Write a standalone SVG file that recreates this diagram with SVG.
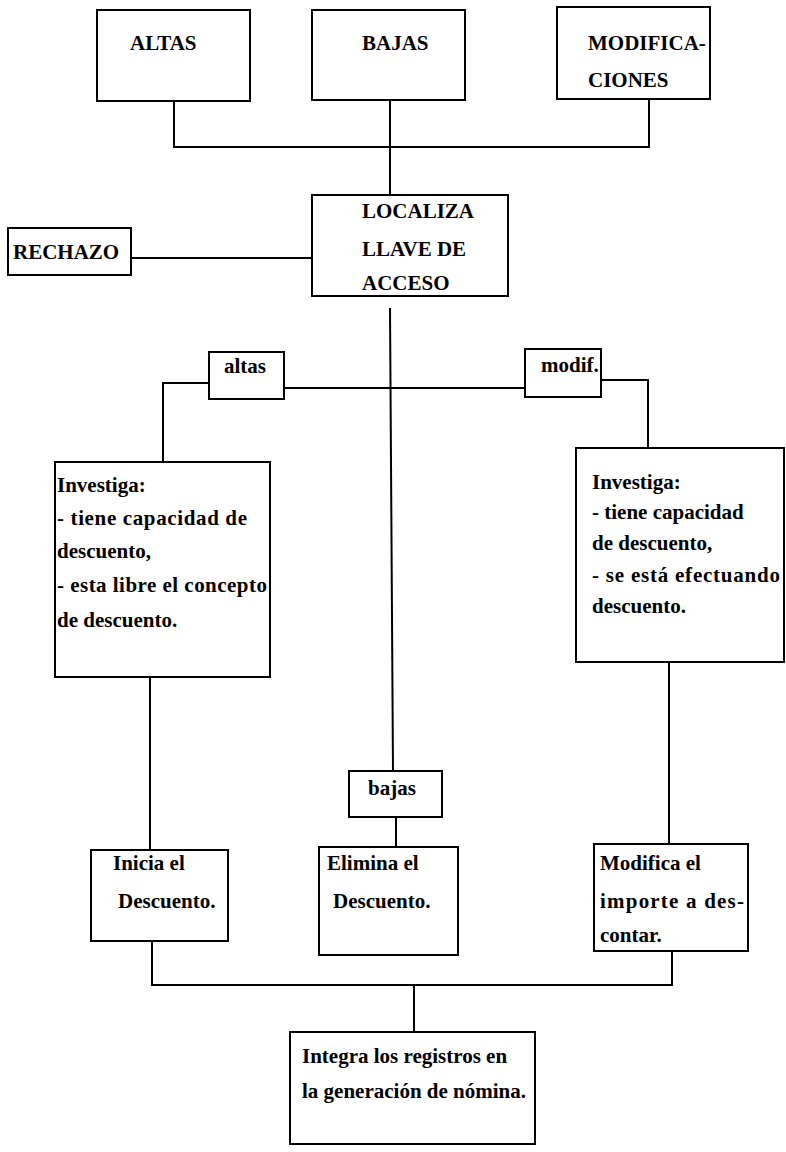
<svg xmlns="http://www.w3.org/2000/svg" width="786" height="1152" viewBox="0 0 786 1152">
<style>
  .box { fill: #ffffff; stroke: #000000; stroke-width: 2; }
  .con { fill: none; stroke: #000000; stroke-width: 2; }
  text { font-family: "Liberation Serif", "Times New Roman", serif; font-weight: bold; font-size: 21px; fill: #000000; }
</style>
<rect x="0" y="0" width="786" height="1152" fill="#ffffff"/>
<g id="connectors">
  <polyline class="con" points="174,101 174,147 649,147 649,99"/>
  <line class="con" x1="390" y1="100" x2="390" y2="195"/>
  <line class="con" x1="131" y1="258" x2="312" y2="258"/>
  <line class="con" x1="390" y1="308" x2="393" y2="771"/>
  <line class="con" x1="284" y1="388" x2="525" y2="388"/>
  <polyline class="con" points="209,383 163,383 163,462"/>
  <polyline class="con" points="601,380 648,380 648,448"/>
  <line class="con" x1="150" y1="677" x2="150" y2="850"/>
  <line class="con" x1="669" y1="662" x2="669" y2="858"/>
  <line class="con" x1="396" y1="817" x2="396" y2="847"/>
  <polyline class="con" points="152,941 152,985 672,985 672,951"/>
  <line class="con" x1="414" y1="985" x2="414" y2="1032"/>
</g>
<g id="altas-top">
  <rect class="box" x="97" y="10" width="153" height="91"/>
  <text x="130" y="50">ALTAS</text>
</g>
<g id="bajas-top">
  <rect class="box" x="312" y="10" width="153" height="90"/>
  <text x="362" y="50">BAJAS</text>
</g>
<g id="modificaciones-top">
  <rect class="box" x="557" y="7" width="153" height="92"/>
  <text x="588" y="50">MODIFICA-</text>
  <text x="588" y="87">CIONES</text>
</g>
<g id="rechazo">
  <rect class="box" x="8" y="228" width="123" height="47"/>
  <text x="13" y="259">RECHAZO</text>
</g>
<g id="localiza">
  <rect class="box" x="312" y="195" width="196" height="101"/>
  <text x="362" y="218">LOCALIZA</text>
  <text x="362" y="256">LLAVE DE</text>
  <text x="362" y="290">ACCESO</text>
</g>
<g id="altas-label">
  <rect class="box" x="209" y="352" width="75" height="47"/>
  <text x="224" y="373">altas</text>
</g>
<g id="modif-label">
  <rect class="box" x="525" y="349" width="76" height="48"/>
  <text x="541" y="372">modif.</text>
</g>
<g id="investiga-altas">
  <rect class="box" x="55" y="462" width="215" height="215"/>
  <text x="57" y="492">Investiga:</text>
  <text x="57" y="525" textLength="190" lengthAdjust="spacing">- tiene capacidad de</text>
  <text x="57" y="558">descuento,</text>
  <text x="57" y="592" textLength="210" lengthAdjust="spacing">- esta libre el concepto</text>
  <text x="57" y="627">de descuento.</text>
</g>
<g id="investiga-modif">
  <rect class="box" x="576" y="448" width="208" height="214"/>
  <text x="592" y="489">Investiga:</text>
  <text x="592" y="519">- tiene capacidad</text>
  <text x="592" y="550">de descuento,</text>
  <text x="592" y="582" textLength="188" lengthAdjust="spacing">- se está efectuando</text>
  <text x="592" y="613">descuento.</text>
</g>
<g id="bajas-label">
  <rect class="box" x="349" y="771" width="93" height="46"/>
  <text x="368" y="795">bajas</text>
</g>
<g id="inicia">
  <rect class="box" x="91" y="850" width="137" height="91"/>
  <text x="113" y="870">Inicia el</text>
  <text x="118" y="908">Descuento.</text>
</g>
<g id="elimina">
  <rect class="box" x="319" y="847" width="139" height="108"/>
  <text x="327" y="870">Elimina el</text>
  <text x="333" y="908">Descuento.</text>
</g>
<g id="modifica">
  <rect class="box" x="594" y="844" width="154" height="107"/>
  <text x="600" y="870">Modifica el</text>
  <text x="600" y="908" textLength="144" lengthAdjust="spacing">importe a des-</text>
  <text x="600" y="942">contar.</text>
</g>
<g id="integra">
  <rect class="box" x="290" y="1032" width="245" height="112"/>
  <text x="302" y="1063">Integra los registros en</text>
  <text x="302" y="1098">la generación de nómina.</text>
</g>
</svg>
